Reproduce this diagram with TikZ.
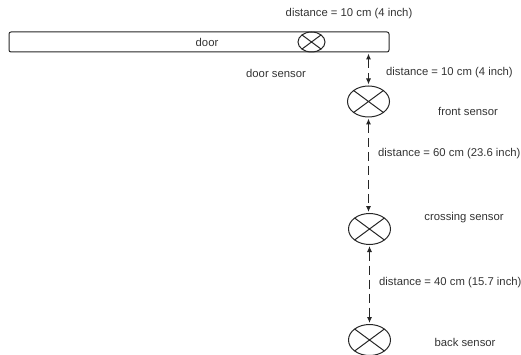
\documentclass[tikz,border=0pt]{standalone}
\usepackage{fontspec}
\setmainfont{Liberation Sans}
\usetikzlibrary{shapes.geometric,arrows.meta}
\begin{document}
\begin{tikzpicture}[x=1pt,y=-1pt,
  lbl/.style={font=\fontsize{11.3}{13}\selectfont, text=black!80, inner sep=0pt},
  sensor/.style={ellipse, draw=black!85, line width=1pt, inner sep=0pt,
    minimum width=42pt, minimum height=31pt,
    path picture={\draw[black!85, line width=1pt]
      (path picture bounding box.north west) -- (path picture bounding box.south east)
      (path picture bounding box.north east) -- (path picture bounding box.south west);}},
  dist/.style={draw=black!85, line width=1pt, dash pattern=on 9pt off 5pt,
    {Latex[length=6pt,width=5pt]}-{Latex[length=6pt,width=5pt]}, shorten <=1pt, shorten >=1pt}
]
\useasboundingbox (0,0) rectangle (521,355);
\node[draw=black!85, line width=1pt, rounded corners=2pt, minimum width=380pt, minimum height=20pt, inner sep=0pt] (door) at (199,42) {};
\node[lbl] (doorlbl) at (207,42) {door};
\node[sensor, minimum width=27pt, minimum height=20pt] (ds) at (311.5,42) {};
\node[lbl] (d1) at (349,14) {distance = 10 cm (4 inch)};
\node[lbl] (dslbl) at (276,73) {door sensor};
\node[sensor] (front) at (368.5,101.5) {};
\node[sensor] (cross) at (369.5,229) {};
\node[sensor] (back) at (369.5,340) {};
\node[lbl, anchor=west] (d2) at (386,73) {distance = 10 cm (4 inch)};
\node[lbl] (frontlbl) at (468,111) {front sensor};
\node[lbl, anchor=west] (d3) at (378,154) {distance = 60 cm (23.6 inch)};
\node[lbl] (crosslbl) at (464,218) {crossing sensor};
\node[lbl, anchor=west] (d4) at (379,283) {distance = 40 cm (15.7 inch)};
\node[lbl] (backlbl) at (465,342) {back sensor};
\draw[dist] (door.south -| front) -- (front.north);
\draw[dist] (front.south) -- (cross.north -| front);
\draw[dist] (cross.south) -- (back.north);
\end{tikzpicture}
\end{document}
